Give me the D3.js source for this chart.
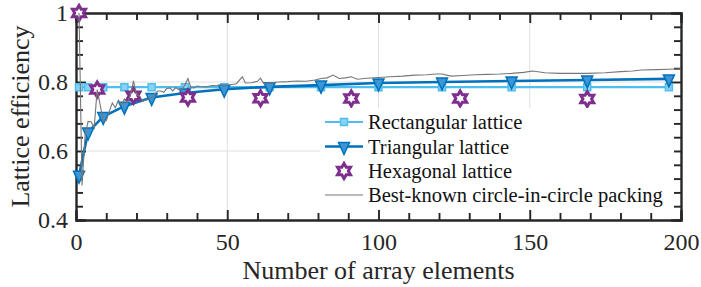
<!DOCTYPE html>
<html>
<head>
<meta charset="UTF-8">
<title>Lattice efficiency</title>
<style>
    body { margin: 0; padding: 0; background: #fff; }
    .grid line { stroke: #e0e0e0; stroke-width: 1; }
    .axis path, .axis line { stroke: #262626; stroke-width: 1.9; }
</style>
</head>
<body>
<div id="chart"></div>
<script src="https://d3js.org/d3.v7.min.js"></script>
<script>
// --- data ---
const rectN   = [1, 4, 9, 16, 25, 36, 49, 64, 81, 100, 121, 144, 169, 196];
const rectEff = [0.785, 0.785, 0.785, 0.785, 0.785, 0.785, 0.785, 0.785, 0.785, 0.785, 0.785, 0.785, 0.785, 0.785];

const triN   = [1, 4, 9, 16, 25, 36, 49, 64, 81, 100, 121, 144, 169, 196];
const triEff = [0.53, 0.655, 0.70, 0.73, 0.755, 0.768, 0.779, 0.786, 0.791, 0.797, 0.800, 0.803, 0.806, 0.809];

const hexN   = [1, 7, 19, 37, 61, 91, 127, 169];
const hexEff = [1.0, 0.778, 0.760, 0.755, 0.753, 0.752, 0.752, 0.751];

const bestN = [1, 2, 3, 4, 5, 6, 7, 8, 9, 10, 11, 12, 13, 14, 15, 16, 17, 18, 19, 20,
               21, 22, 23, 24, 25, 26, 27, 28, 29, 30, 31, 32, 33, 34, 35, 36, 37, 38, 39, 40,
               41, 43, 45, 47, 49, 51, 53, 55, 56, 58, 60, 61, 62, 64, 67, 70, 73, 76, 79, 81,
               83, 85, 87, 89, 91, 93, 96, 100, 104, 108, 112, 116, 119, 121, 124, 128, 132, 136, 140, 144,
               148, 151, 155, 160, 165, 169, 175, 180, 184, 187, 192, 196, 200];
const bestEff = [1.000, 0.500, 0.646, 0.686, 0.685, 0.667, 0.778, 0.733, 0.689, 0.688,
                 0.715, 0.739, 0.725, 0.747, 0.734, 0.751, 0.740, 0.761, 0.803, 0.762,
                 0.761, 0.744, 0.748, 0.751, 0.755, 0.765, 0.774, 0.774, 0.770, 0.781,
                 0.783, 0.774, 0.784, 0.778, 0.780, 0.791, 0.810, 0.784, 0.783, 0.788,
                 0.787, 0.786, 0.790, 0.789, 0.790, 0.792, 0.795, 0.815, 0.797, 0.798,
                 0.802, 0.811, 0.796, 0.798, 0.800, 0.801, 0.803, 0.802, 0.806, 0.810,
                 0.812, 0.820, 0.810, 0.812, 0.815, 0.808, 0.811, 0.813, 0.815, 0.817,
                 0.820, 0.821, 0.823, 0.823, 0.817, 0.819, 0.821, 0.822, 0.823, 0.825,
                 0.828, 0.832, 0.827, 0.825, 0.825, 0.825, 0.827, 0.830, 0.832, 0.835,
                 0.836, 0.837, 0.838];

const xTicks = [0, 50, 100, 150, 200];
const yTicks = [0.4, 0.6, 0.8, 1];
const yTickLabels = ["0.4", "0.6", "0.8", "1"];
const legendLabels = ["Rectangular lattice", "Triangular lattice", "Hexagonal lattice", "Best-known circle-in-circle packing"];

// --- layout ---
const W = 701, H = 287;
const FONT = "Liberation Serif, Times New Roman, serif";
const x = d3.scaleLinear().domain([0, 200]).range([76, 681]);
const y = d3.scaleLinear().domain([0.4, 1]).range([220, 13]);

const cRect = "#4DBEEE", cTri = "#0072BD", cHex = "#7E2F8E", cBest = "#777777";

const svg = d3.select("#chart").append("svg")
    .attr("width", W).attr("height", H)
    .attr("font-family", FONT);

// grid
const grid = svg.append("g").attr("class", "grid");
grid.selectAll(".gx").data(xTicks.slice(1, -1)).enter().append("line")
    .attr("x1", d => x(d)).attr("x2", d => x(d))
    .attr("y1", y(1)).attr("y2", y(0.4));
grid.selectAll(".gy").data(yTicks.slice(1, -1)).enter().append("line")
    .attr("x1", x(0)).attr("x2", x(200))
    .attr("y1", d => y(d)).attr("y2", d => y(d));

// axes: ticks pointing inward, box on all four sides
const xMinor = d3.range(0, 201, 10).filter(v => v % 50 !== 0);
const yMinor = d3.range(0.44, 0.99, 0.04).filter(v => Math.abs(v * 5 - Math.round(v * 5)) > 1e-6);

function addAxis(gen, tr) {
    const g = svg.append("g").attr("class", "axis").attr("transform", tr).call(gen);
    g.attr("font-family", FONT).attr("font-size", 24);
    g.selectAll("text").attr("fill", "#262626");
    return g;
}
addAxis(d3.axisBottom(x).tickValues(xTicks).tickSize(-10).tickPadding(13).tickFormat(d3.format("d")), `translate(0,${y(0.4)})`);
addAxis(d3.axisTop(x).tickValues(xTicks).tickSize(-10).tickFormat(""), `translate(0,${y(1)})`);
addAxis(d3.axisLeft(y).tickValues(yTicks).tickSize(-10).tickPadding(8).tickFormat((d, i) => yTickLabels[i]), `translate(${x(0)},0)`);
addAxis(d3.axisRight(y).tickValues(yTicks).tickSize(-10).tickFormat(""), `translate(${x(200)},0)`);
addAxis(d3.axisBottom(x).tickValues(xMinor).tickSize(-7).tickFormat(""), `translate(0,${y(0.4)})`);
addAxis(d3.axisTop(x).tickValues(xMinor).tickSize(-7).tickFormat(""), `translate(0,${y(1)})`);
addAxis(d3.axisLeft(y).tickValues(yMinor).tickSize(-7).tickFormat(""), `translate(${x(0)},0)`);
addAxis(d3.axisRight(y).tickValues(yMinor).tickSize(-7).tickFormat(""), `translate(${x(200)},0)`);

// axis labels
svg.append("text")
    .attr("x", (x(0) + x(200)) / 2).attr("y", 279)
    .attr("text-anchor", "middle").attr("font-size", 26).attr("fill", "#262626")
    .text("Number of array elements");
svg.append("text")
    .attr("transform", `translate(29,${(y(0.4) + y(1)) / 2}) rotate(-90)`)
    .attr("text-anchor", "middle").attr("font-size", 26).attr("fill", "#262626")
    .text("Lattice efficiency");

// marker shapes
function squarePath(s) { return `M${-s},${-s}H${s}V${s}H${-s}Z`; }
function triDownPath() { return "M-5.5,-4H5.5L0,8Z"; }
function hexagramPath(R) {
    const r = R / Math.sqrt(3);
    const pts = [];
    for (let k = 0; k < 12; k++) {
        const a = -Math.PI / 2 + k * Math.PI / 6;
        const rr = k % 2 === 0 ? R : r;
        pts.push([rr * Math.cos(a), rr * Math.sin(a)]);
    }
    return "M" + pts.map(p => p.join(",")).join("L") + "Z";
}

const line = d3.line().x(d => x(d[0])).y(d => y(d[1]));
const data = svg.append("g");

// rectangular
const rectPts = rectN.map((n, i) => [n, rectEff[i]]);
data.append("path").datum(rectPts).attr("d", line)
    .attr("fill", "none").attr("stroke", cRect).attr("stroke-width", 2.2);
data.selectAll(".mr").data(rectPts).enter().append("path")
    .attr("d", squarePath(3.5))
    .attr("transform", d => `translate(${x(d[0])},${y(d[1])})`)
    .attr("fill", "#86d3f3").attr("stroke", cRect).attr("stroke-width", 1.5);

// triangular
const triPts = triN.map((n, i) => [n, triEff[i]]);
data.append("path").datum(triPts).attr("d", line)
    .attr("fill", "none").attr("stroke", cTri).attr("stroke-width", 2.6);
data.selectAll(".mt").data(triPts).enter().append("path")
    .attr("d", triDownPath())
    .attr("transform", d => `translate(${x(d[0])},${y(d[1])})`)
    .attr("fill", "#3d95d6").attr("stroke", cTri).attr("stroke-width", 1.5);

// hexagonal (markers only)
const hexPts = hexN.map((n, i) => [n, hexEff[i]]);
data.selectAll(".mh").data(hexPts).enter().append("path")
    .attr("d", hexagramPath(7.5))
    .attr("transform", d => `translate(${x(d[0])},${y(d[1])})`)
    .attr("fill", "#fff").attr("stroke", cHex).attr("stroke-width", 3);

// best-known packing
const bestPts = bestN.map((n, i) => [n, bestEff[i]]);
data.append("path").datum(bestPts).attr("d", line)
    .attr("fill", "none").attr("stroke", cBest).attr("stroke-width", 1.1);

// legend
const lg = svg.append("g");
lg.append("rect").attr("x", 320).attr("y", 108).attr("width", 354).attr("height", 101).attr("fill", "#fff");
const rowY = [122, 146.5, 171, 195];
const lx0 = 325, lx1 = 363, lxm = 344;
lg.append("line").attr("x1", lx0).attr("x2", lx1).attr("y1", rowY[0]).attr("y2", rowY[0])
    .attr("stroke", cRect).attr("stroke-width", 2.2);
lg.append("path").attr("d", squarePath(3.5)).attr("transform", `translate(${lxm},${rowY[0]})`)
    .attr("fill", "#86d3f3").attr("stroke", cRect).attr("stroke-width", 1.5);
lg.append("line").attr("x1", lx0).attr("x2", lx1).attr("y1", rowY[1]).attr("y2", rowY[1])
    .attr("stroke", cTri).attr("stroke-width", 2.6);
lg.append("path").attr("d", triDownPath()).attr("transform", `translate(${lxm},${rowY[1]})`)
    .attr("fill", "#3d95d6").attr("stroke", cTri).attr("stroke-width", 1.5);
lg.append("path").attr("d", hexagramPath(7.5)).attr("transform", `translate(${lxm},${rowY[2]})`)
    .attr("fill", "#fff").attr("stroke", cHex).attr("stroke-width", 3);
lg.append("line").attr("x1", lx0).attr("x2", lx1).attr("y1", rowY[3]).attr("y2", rowY[3])
    .attr("stroke", cBest).attr("stroke-width", 1.1);
lg.selectAll(".lt").data(legendLabels).enter().append("text")
    .attr("x", 368).attr("y", (d, i) => rowY[i]).attr("dy", "0.35em")
    .attr("font-size", 20.5).attr("fill", "#111")
    .text(d => d);
</script>
</body>
</html>
